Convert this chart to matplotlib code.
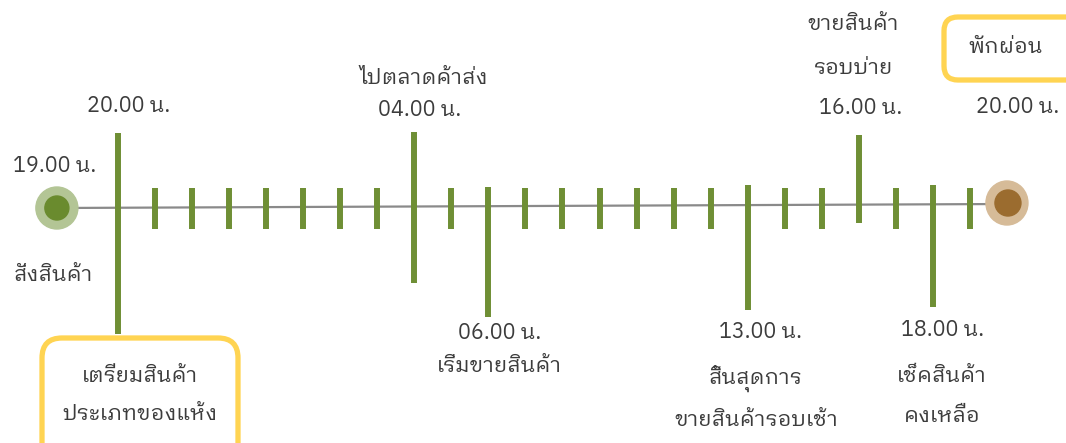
import matplotlib
matplotlib.use("Agg")
import matplotlib.pyplot as plt
from matplotlib import font_manager
from matplotlib.ft2font import FT2Font
from matplotlib.patches import FancyBboxPatch, Ellipse

# ---------- find a font with Thai glyphs ----------
def find_thai_font():
    cands = []
    for f in font_manager.fontManager.ttflist:
        try:
            cm = FT2Font(f.fname).get_charmap()
        except Exception:
            continue
        if 0x0E2A in cm and 0x0E49 in cm:
            cands.append(f.name)
    pref = [n for n in cands if "Thai" in n and "Looped" in n] + \
           [n for n in cands if "Thai" in n] + cands
    return pref[0] if pref else None

thai = find_thai_font()
fams = ([thai] if thai else []) + ["DejaVu Sans"]
plt.rcParams["font.family"] = fams

# ---------- data ----------
# hours along the timeline (20.00 evening -> 20.00 next evening)
tick_hours = [20, 21, 22, 23, 0, 1, 2, 3, 4, 5, 6, 7, 8, 9, 10, 11, 12,
              13, 14, 15, 16, 17, 18, 19]
start_hour = 19
end_hour = 20

event_hours = [20, 4, 6, 13, 16, 18]
event_times = ["20.00 น.", "04.00 น.", "06.00 น.", "13.00 น.", "16.00 น.", "18.00 น."]
event_texts = ["", "ไปตลาดค้าส่ง", "เริ่มขายสินค้า", "สิ้นสุดการ\nขายสินค้ารอบเช้า",
               "ขายสินค้า\nรอบบ่าย", "เช็คสินค้า\nคงเหลือ"]

start_time = "19.00 น."
start_text = "สั่งสินค้า"
end_time = "20.00 น."
end_text = "พักผ่อน"
box_text = "เตรียมสินค้า\nประเภทของแห้ง"

# ---------- style ----------
GREEN = "#6f8f35"
TXT = "#3c3c3c"
YEL = "#ffd452"
FS = 15.5
AXIS_Y = 207
TICK_LW = 4.3

def pos(h):
    """hour -> index along the timeline, 20.00 = 0 (next-day 20.00 = 24)"""
    return (h - 20) % 24

W, H = 1066, 443
fig = plt.figure(figsize=(W / 100, H / 100), dpi=100)
ax = fig.add_axes([0, 0, 1, 1])
px_per = 37.04
ax.set_xlim(-118 / px_per, (W - 118) / px_per)
ax.set_ylim(H, 0)
ax.axis("off")

ov = fig.add_axes([0, 0, 1, 1])
ov.set_xlim(0, W)
ov.set_ylim(H, 0)
ov.axis("off")
ov.set_zorder(0)
ax.set_zorder(1)
ax.patch.set_visible(False)

start_x = pos(start_hour) - 24 - 0.65   # first interval is drawn a bit wider
end_x = pos(end_hour) + 24

# axis line
ax.plot([start_x, end_x], [AXIS_Y + 1, AXIS_Y - 3], color="#8a8a8a", lw=1.6, zorder=1)

# small ticks
for h in tick_hours:
    if h in event_hours:
        continue
    ax.plot([pos(h), pos(h)], [188, 229], color=GREEN, lw=TICK_LW,
            solid_capstyle="butt", zorder=2)

# event ticks (vertical extent in pixels = layout)
ev_ext = {20: (133, 334), 4: (132, 283), 6: (187, 317), 13: (185, 310),
          16: (135, 223), 18: (185, 307)}
for h in event_hours:
    y0, y1 = ev_ext[h]
    ax.plot([pos(h), pos(h)], [y0, y1], color=GREEN, lw=TICK_LW,
            solid_capstyle="butt", zorder=2)

# start / end markers
ax.add_artist(Ellipse((start_x, 208), 42 / px_per, 42, color="#b3c595", zorder=3))
ax.add_artist(Ellipse((start_x, 208), 24 / px_per, 24, color="#6a8b2e", zorder=4))
ax.add_artist(Ellipse((end_x, 203), 42 / px_per, 44, color="#d6bb98", zorder=3))
ax.add_artist(Ellipse((end_x + 1 / px_per, 203), 26 / px_per, 26, color="#9b6c2f", zorder=4))

# text
def t(x, y, s, ls=2.0):
    ax.text(x, y, s, fontsize=FS, color=TXT, ha="center", va="center",
            linespacing=ls, zorder=5)

t(start_x - 0.05, 166, start_time)
t(start_x - 0.1, 275, start_text)

e = dict(zip(event_hours, zip(event_times, event_texts)))
t(pos(20) + 0.3, 106, e[20][0])
t(pos(4) + 0.25, 78, e[4][1])
t(pos(4) + 0.15, 110, e[4][0])
t(pos(6) + 0.3, 333, e[6][0])
t(pos(6) + 0.3, 366, e[6][1])
t(pos(13) + 0.35, 332, e[13][0])
t(pos(13) + 0.22, 398, e[13][1])
t(pos(16) - 0.15, 46, e[16][1], ls=2.3)
t(pos(16) + 0.05, 108, e[16][0])
t(pos(18) + 0.25, 330, e[18][0])
t(pos(18) + 0.25, 396, e[18][1])
t(end_x + 0.3, 107, end_time)

# boxes
ov.add_patch(FancyBboxPatch((42, 338), 196, 130, boxstyle="round,pad=0,rounding_size=20",
                            fc="white", ec=YEL, lw=3.8, zorder=2))
ov.text(140, 395, box_text, fontsize=FS, color=TXT, ha="center", va="center",
        linespacing=2.0, zorder=3)
ov.add_patch(FancyBboxPatch((944, 17), 160, 63, boxstyle="round,pad=0,rounding_size=14",
                            fc="white", ec=YEL, lw=3.8, zorder=2))
ov.text(1006, 47, end_text, fontsize=FS, color=TXT, ha="center", va="center", zorder=3)

fig.savefig("out.png", dpi=100)
